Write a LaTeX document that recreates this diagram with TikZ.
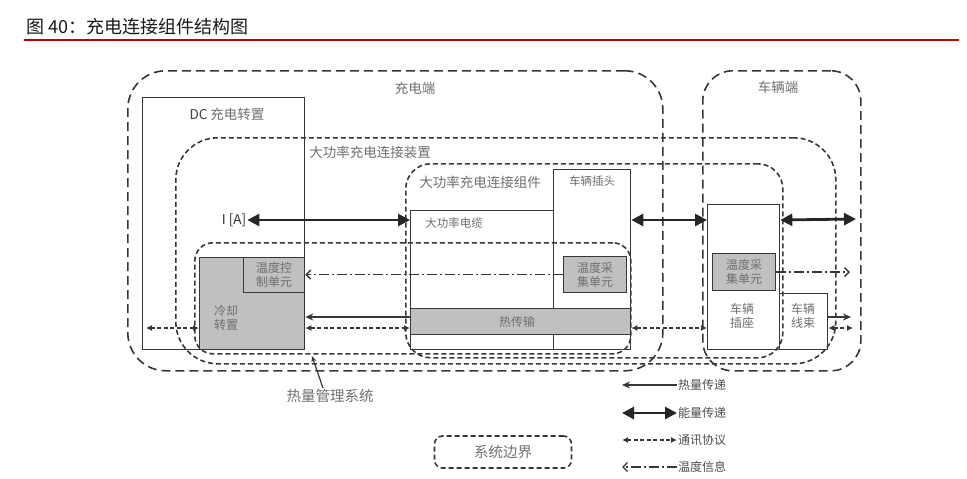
\documentclass[tikz,border=0pt]{standalone}
\usepackage{fontspec}
\setmainfont{Noto Sans CJK SC}
\usetikzlibrary{positioning, arrows.meta}

\definecolor{linegray}{RGB}{55,55,55}
\definecolor{fillgray}{RGB}{192,192,192}
\definecolor{textgray}{RGB}{110,110,110}
\definecolor{titlered}{RGB}{192,0,0}

\begin{document}
\begin{tikzpicture}[
  x=1pt, y=-1pt,
  every node/.style={text=textgray, inner sep=1pt},
  zone/.style 2 args={draw=linegray, line width=1.6pt, minimum width=#1, minimum height=#2, anchor=north west, inner sep=0pt},
  outer/.style={dash pattern=on 9pt off 5pt},
  inner/.style={dash pattern=on 5pt off 3pt},
  unit/.style 2 args={draw=linegray, line width=1.3pt, minimum width=#1, minimum height=#2, anchor=north west, inner sep=0pt},
  shaded/.style={fill=fillgray},
  lbl/.style={font=\fontsize{12}{14}\selectfont},
  biglbl/.style={font=\fontsize{13.5}{15}\selectfont},
  twoline/.style={font=\fontsize{12}{14}\selectfont, align=center},
  power/.style={line width=2.8pt, draw=black!85, {Triangle[length=12pt,width=12pt]}-{Triangle[length=12pt,width=12pt]}},
  heat/.style={line width=1.4pt, draw=linegray, -{Stealth[length=8pt,width=7pt]}},
  comm/.style={line width=1.6pt, draw=linegray, dash pattern=on 4pt off 2.5pt, {Latex[length=6pt,width=6pt]}-{Latex[length=6pt,width=6pt]}},
  temp/.style={line width=1.4pt, draw=linegray, dash pattern=on 10pt off 3pt on 2pt off 3pt, -{Straight Barb[length=4.5pt,width=9pt]}},
]
\useasboundingbox (0,0) rectangle (967,479);

\node[anchor=west, text=black!90, font=\fontsize{18}{20}\selectfont] (title) at (25,27) {图 40：充电连接组件结构图};
\draw[titlered, line width=1.6pt] (24,40) -- (959,40);

\node[zone={535}{300}, outer, rounded corners=38pt] (chgend) at (127,70) {};
\node[zone={158}{300}, outer, rounded corners=30pt] (vehend) at (702,70) {};
\node[zone={660}{226}, inner, rounded corners=42pt] (hpdevice) at (175,137) {};
\node[zone={377}{194}, inner, rounded corners=25pt] (hpassembly) at (405,163) {};
\node[zone={436}{111}, inner, rounded corners=18pt] (thermsys) at (194,242) {};

\node[biglbl] (chgendlbl) at (415,88) {充电端};
\node[biglbl] (vehendlbl) at (778,87) {车辆端};
\node[biglbl] (hpdevicelbl) at (370,152) {大功率充电连接装置};
\node[biglbl] (hpassemblylbl) at (480,182) {大功率充电连接组件};

\node[unit={162}{252}] (dcunit) at (142,97) {};
\node[unit={105}{92}, shaded] (cooler) at (199,257) {};
\node[unit={61}{35}, shaded] (dctemp) at (243,257) {};
\node[unit={143}{139}] (cable) at (410,210) {};
\node[unit={77}{180}] (plug) at (553,169) {};
\node[unit={220}{26}, shaded] (heatbar) at (410,308) {};
\node[unit={63}{36}, shaded] (plugsens) at (563,256) {};
\node[unit={72}{145}] (socket) at (707,204) {};
\node[unit={63}{37}, shaded] (socksens) at (712,253) {};
\node[unit={48}{56}] (harness) at (779,293) {};

\node[biglbl] (dclbl) at (227,114) {{\color{black!75}DC} 充电转置};
\node[twoline] (dctemplbl) at (dctemp.center) {温度控\\制单元};
\node[twoline] (coolerlbl) at (226,318) {冷却\\转置};
\node[lbl, font=\fontsize{11.5}{13}\selectfont] (cablelbl) at (454,223) {大功率电缆};
\node[lbl, font=\fontsize{11.5}{13}\selectfont, below=6pt of plug.north] (pluglbl) {车辆插头};
\node[lbl] (heatbarlbl) at (517,322) {热传输};
\node[twoline] (plugsenslbl) at (plugsens.center) {温度采\\集单元};
\node[twoline] (socksenslbl) at (socksens.center) {温度采\\集单元};
\node[twoline] (socketlbl) at (742,316) {车辆\\插座};
\node[twoline] (harnesslbl) at (803,316) {车辆\\线束};
\node[biglbl, text=black!80] (current) at (234,220) {I [A]};
\node[font=\fontsize{14.5}{16}\selectfont] (thermlbl) at (330,396) {热量管理系统};

\coordinate (pwY) at (0,220);
\coordinate (pwEnd) at (856,219);
\coordinate (heatY) at (0,317);
\coordinate (commY) at (0,328);
\coordinate (commL) at (146,328);
\coordinate (commR) at (853,328);
\coordinate (heatEnd) at (851,317);
\coordinate (tempEnd) at (850,272);
\coordinate (thermPt) at (312,356);

\draw[power] (current.east) -- (cable.west |- current.east);
\draw[power] (plug.east |- pwY) -- (socket.west |- pwY);
\draw[power] (socket.east |- pwY) -- (pwEnd);
\draw[temp] (plugsens.west) -- (dctemp.east |- plugsens.west);
\draw[temp] (socksens.east) -- (tempEnd |- socksens.east);
\draw[heat] (heatbar.west |- heatY) -- (cooler.east |- heatY);
\draw[heat] (harness.east |- heatY) -- (heatEnd);
\draw[comm] (cooler.east |- commY) -- (cable.west |- commY);
\draw[comm] (cooler.west |- commY) -- (commL);
\draw[comm] (plug.east |- commY) -- (socket.west |- commY);
\draw[comm] (harness.east |- commY) -- (commR);
\draw[line width=1.2pt, draw=linegray, -{Stealth[length=6pt,width=5pt]}] ([xshift=-7pt]thermlbl.north) -- (thermPt);

\node[lbl, anchor=west, text=black!70] (lgheat) at (677,385) {热量传递};
\node[lbl, anchor=west, text=black!70] (lgpower) at (677,413) {能量传递};
\node[lbl, anchor=west, text=black!70] (lgcomm) at (677,440) {通讯协议};
\node[lbl, anchor=west, text=black!70] (lgtemp) at (677,467) {温度信息};
\coordinate (lgheatA) at (622,385);
\coordinate (lgpowerA) at (622,413);
\coordinate (lgcommA) at (622,440);
\coordinate (lgtempA) at (622,467);
\draw[heat] (lgheat.west) -- (lgheatA);
\draw[power] (lgpowerA) -- (lgpower.west);
\draw[comm] (lgcommA) -- (lgcomm.west);
\draw[temp] (lgtemp.west) -- (lgtempA);

\node[zone={137}{32}, inner, rounded corners=8pt, anchor=center, font=\fontsize{14.5}{16}\selectfont] (lgbound) at (503,452) {系统边界};
\end{tikzpicture}
\end{document}
